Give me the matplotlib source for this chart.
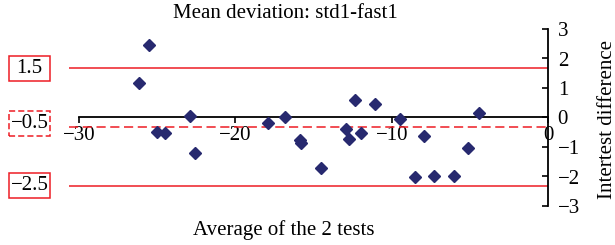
import matplotlib.pyplot as plt
import matplotlib.transforms as mtransforms
from matplotlib.patches import Rectangle

# average of the 2 tests vs intertest difference
avg_tests = [-25.53, -26.19, -25.03, -24.50, -22.89, -22.57, -17.93, -16.81,
             -15.87, -15.80, -14.52, -12.94, -12.73, -12.35, -11.96, -11.05,
             -9.45, -8.49, -7.91, -7.27, -5.99, -5.10, -4.43]
intertest_diff = [2.47, 1.16, -0.50, -0.52, 0.06, -1.20, -0.20, 0.03,
                  -0.76, -0.87, -1.70, -0.40, -0.74, 0.61, -0.53, 0.45,
                  -0.04, -2.02, -0.63, -1.97, -1.98, -1.02, 0.14]

limit_values = [1.67, -0.32, -2.31]
limit_labels = ["1.5", "\u22120.5", "\u22122.5"]
limit_styles = ["-", "--", "-"]

x_ticks = [-30, -20, -10, 0]
y_ticks = [-3, -2, -1, 0, 1, 2, 3]

RED = "#ed1c24"
NAVY = "#27296f"
W, H = 615, 245

plt.rcParams["font.family"] = ["Liberation Serif", "DejaVu Serif"]
plt.rcParams["font.size"] = 15

fig = plt.figure(figsize=(W / 100, H / 100), dpi=100)
ax = fig.add_axes([69 / W, 1 - 206 / H, (548 - 69) / W, 177 / H])

for val, style in zip(limit_values, limit_styles):
    if style == "--":
        ax.axhline(val, color=RED, lw=1.1, dashes=(6, 3))
    else:
        ax.axhline(val, color=RED, lw=1.1)

ax.plot(avg_tests, intertest_diff, "D", color=NAVY, ms=6.5, ls="none",
        clip_on=False, zorder=5)

ax.set_xlim(-30.65, 0)
ax.set_ylim(-3, 3)
ax.spines["top"].set_visible(False)
ax.spines["left"].set_visible(False)
ax.spines["bottom"].set_position(("data", 0))
ax.spines["bottom"].set_bounds(-30, 0)
ax.spines["right"].set_bounds(-3, 3)
for s in ("bottom", "right"):
    ax.spines[s].set_linewidth(1.3)

ax.set_xticks(x_ticks)
ax.set_yticks(y_ticks)
ax.yaxis.tick_right()
ax.tick_params(axis="x", direction="out", length=4, width=1.2, pad=2)
ax.tick_params(axis="y", direction="in", length=4, width=1.2, pad=7)

# boxed labels for the limit lines, left of the plot
trans = mtransforms.blended_transform_factory(fig.transFigure, ax.transData)
box_h = 25 / 29.5
for val, lab, style in zip(limit_values, limit_labels, limit_styles):
    # the dashed box sits a little above its line so it clears the axis label
    yc = val + 0.11 if style == "--" else val
    ax.add_patch(Rectangle((9 / W, yc - box_h / 2), 41 / W, box_h,
                           transform=trans, clip_on=False, facecolor="white",
                           edgecolor=RED, lw=1.1,
                           linestyle=(0, (4, 2)) if style == "--" else "-"))
    ax.text(29.5 / W, yc, lab, transform=trans, ha="center", va="center",
            clip_on=False)

fig.text(285 / W, 1 - 14 / H, "Mean deviation: std1-fast1", ha="center", va="center")
fig.text(284 / W, 1 - 230 / H, "Average of the 2 tests", ha="center", va="center")
fig.text(607 / W, 1 - 119 / H, "Intertest difference", ha="center", va="center",
         rotation=90)

fig.savefig("out.png", dpi=100)
